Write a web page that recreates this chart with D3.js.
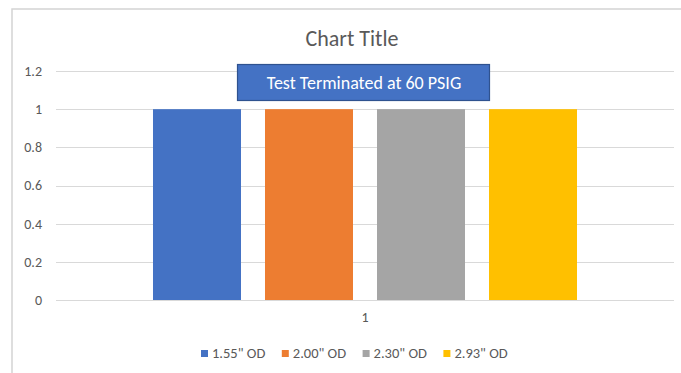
<!DOCTYPE html>
<html>
<head>
<meta charset="utf-8">
<script src="https://cdn.jsdelivr.net/npm/d3@7"></script>
<style>
  html, body { margin: 0; padding: 0; background: #fff; }
  svg { display: block; }
  text { font-family: Carlito, Calibri, Lato, sans-serif; }
</style>
</head>
<body>
<svg id="chart" width="681" height="373"></svg>
<script>
// Chart data
const categories = ["1"];
const seriesNames = ['1.55" OD', '2.00" OD', '2.30" OD', '2.93" OD'];
const seriesValues = [[1], [1], [1], [1]];
const seriesColors = ["#4472C4", "#ED7D31", "#A5A5A5", "#FFC000"];
const yTicks = [0, 0.2, 0.4, 0.6, 0.8, 1, 1.2];
const chartTitle = "Chart Title";
const noteText = "Test Terminated at 60 PSIG";

const svg = d3.select("#chart");
const textColor = "#595959";
const gridColor = "#d9d9d9";

// Chart area frame
svg.append("path")
  .attr("d", "M12,373 L12,9 L681,9")
  .attr("fill", "none")
  .attr("stroke", "#d4d4d4")
  .attr("stroke-width", 1.5);

const plot = { left: 56, right: 674, top: 71, bottom: 300 };

const y = d3.scaleLinear().domain([0, 1.2]).range([plot.bottom, plot.top]);
const x0 = d3.scaleBand().domain(categories).range([plot.left, plot.right]);
const x1 = d3.scaleBand().domain(seriesNames)
  .range([0, x0.bandwidth()])
  .paddingInner(0.2143)
  .paddingOuter(0.866);

// Gridlines
svg.append("g").selectAll("line")
  .data(yTicks)
  .join("line")
  .attr("x1", plot.left).attr("x2", plot.right)
  .attr("y1", d => Math.round(y(d)) + 0.5)
  .attr("y2", d => Math.round(y(d)) + 0.5)
  .attr("stroke", gridColor)
  .attr("stroke-width", 1);

// Y axis labels
const yAxis = d3.axisLeft(y).tickValues(yTicks).tickSize(0).tickPadding(0)
  .tickFormat(d => d3.format("")(+d.toFixed(1)));
const gy = svg.append("g").attr("transform", `translate(42,0)`).call(yAxis);
gy.select(".domain").remove();
gy.selectAll("text")
  .attr("fill", textColor)
  .style("font-size", "14px")
  .style("font-family", "Carlito, Calibri, Lato, sans-serif");

// Bars
const groups = svg.append("g").selectAll("g")
  .data(categories)
  .join("g")
  .attr("transform", c => `translate(${x0(c)},0)`);

groups.selectAll("rect")
  .data((c, ci) => seriesNames.map((s, si) => ({ s, v: seriesValues[si][ci], color: seriesColors[si] })))
  .join("rect")
  .attr("x", d => x1(d.s))
  .attr("width", x1.bandwidth())
  .attr("y", d => y(d.v))
  .attr("height", d => y(0) - y(d.v))
  .attr("fill", d => d.color);

// Baseline axis
svg.append("line")
  .attr("x1", plot.left).attr("x2", plot.right)
  .attr("y1", y(0) + 0.5).attr("y2", y(0) + 0.5)
  .attr("stroke", "#d9d9d9")
  .attr("stroke-width", 1.2);

// Category labels
const xAxis = d3.axisBottom(x0).tickSize(0).tickPadding(0);
const gx = svg.append("g").attr("transform", `translate(0,${y(0) + 12})`).call(xAxis);
gx.select(".domain").remove();
gx.selectAll("text")
  .attr("fill", textColor)
  .style("font-size", "14px")
  .style("font-family", "Carlito, Calibri, Lato, sans-serif");

// Title
svg.append("text")
  .attr("x", 352).attr("y", 46)
  .attr("text-anchor", "middle")
  .attr("fill", textColor)
  .style("font-size", "22px")
  .text(chartTitle);

// Annotation box
const note = svg.append("g");
note.append("rect")
  .attr("x", 237.5).attr("y", 64.5)
  .attr("width", 252).attr("height", 36)
  .attr("fill", "#4472C4")
  .attr("stroke", "#2F528F")
  .attr("stroke-width", 1.2);
note.append("text")
  .attr("x", 364).attr("y", 88.5)
  .attr("text-anchor", "middle")
  .attr("fill", "#ffffff")
  .style("font-size", "18px")
  .text(noteText);

// Legend
const legend = svg.append("g");
const legendItems = legend.selectAll("g")
  .data(seriesNames)
  .join("g")
  .attr("transform", (d, i) => `translate(${201 + i * 80.8},350)`);
legendItems.append("rect")
  .attr("width", 7).attr("height", 7)
  .attr("fill", (d, i) => seriesColors[i]);
legendItems.append("text")
  .attr("x", 11).attr("y", 7.5)
  .attr("fill", textColor)
  .style("font-size", "14.5px")
  .text(d => d);
</script>
</body>
</html>
